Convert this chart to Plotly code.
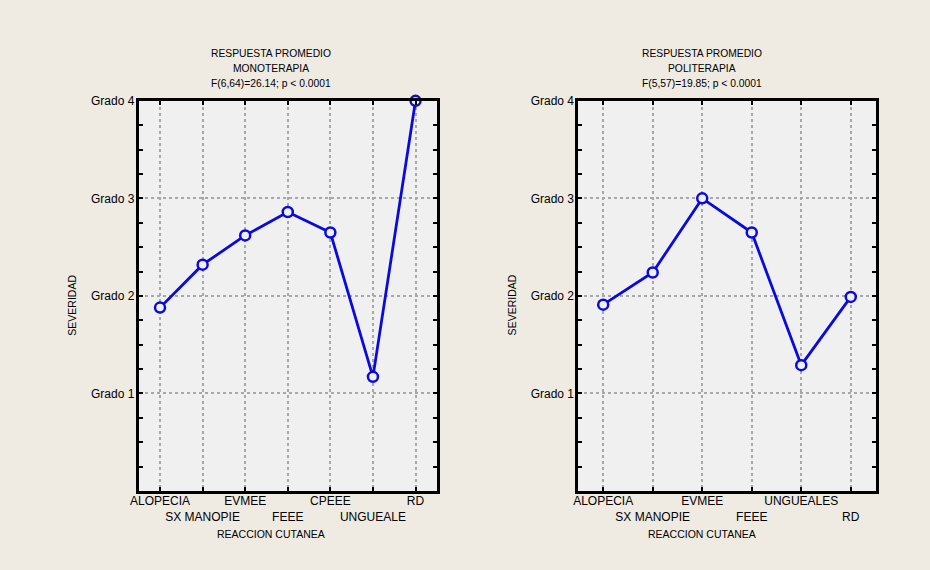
import plotly.graph_objects as go

cats_mono = ["ALOPECIA", "SX MANOPIE", "EVMEE", "FEEE", "CPEEE", "UNGUEALE", "RD"]
vals_mono = [1.88, 2.32, 2.62, 2.86, 2.65, 1.17, 4.0]

cats_poli = ["ALOPECIA", "SX MANOPIE", "EVMEE", "FEEE", "UNGUEALES", "RD"]
vals_poli = [1.91, 2.24, 3.0, 2.65, 1.29, 1.99]

ytick_vals = [1, 2, 3, 4]
ytick_text = ["Grado 1", "Grado 2", "Grado 3", "Grado 4"]

titles = [
    ["RESPUESTA PROMEDIO", "MONOTERAPIA", "F(6,64)=26.14; p < 0.0001"],
    ["RESPUESTA PROMEDIO", "POLITERAPIA", "F(5,57)=19.85; p < 0.0001"],
]
xtitle = "REACCION CUTANEA"
ytitle = "SEVERIDAD"

W, H = 930, 570
BLUE = "#0A0ADC"
FONT = "Liberation Sans, Arial, sans-serif"

fig = go.Figure()

def stagger(cats):
    return [c if i % 2 == 0 else "<br>" + c for i, c in enumerate(cats)]

panels = [
    (cats_mono, vals_mono, "x", "y", (131, 432), 265),
    (cats_poli, vals_poli, "x2", "y2", (575, 875), 700),
]

for k, (cats, vals, xa, ya, (x0, x1), tc) in enumerate(panels):
    idx = list(range(len(cats)))
    fig.add_trace(go.Scatter(
        x=idx, y=vals, xaxis=xa, yaxis=ya, mode="lines+markers",
        line=dict(color=BLUE, width=2.8),
        marker=dict(symbol="circle", size=10, color="#F0F0F0",
                    line=dict(color=BLUE, width=2.5)),
        showlegend=False, cliponaxis=False,
    ))
    axx = dict(
        domain=[x0 / W, x1 / W], range=[-0.5, len(cats) - 0.5],
        tickmode="array", tickvals=idx, ticktext=stagger(cats), tickangle=0,
        ticks="inside", ticklen=4, tickwidth=2, tickcolor="black",
        showline=True, linecolor="black", linewidth=3, mirror="ticks",
        showgrid=True, gridcolor="#A8A8A8", griddash="dot", gridwidth=2,
        zeroline=False, anchor=ya, ticklabelstandoff=-3,
        tickfont=dict(family=FONT, size=12, color="black"),
        fixedrange=True,
    )
    axy = dict(
        domain=[1 - 490 / H, 1 - 95 / H], range=[0, 4],
        tickmode="array", tickvals=ytick_vals, ticktext=ytick_text,
        ticks="inside", ticklen=4, tickwidth=2, tickcolor="black",
        minor=dict(dtick=0.25, tick0=0, ticks="inside", ticklen=4,
                   tickwidth=2, tickcolor="black", showgrid=False),
        showline=True, linecolor="black", linewidth=3, mirror="ticks",
        showgrid=True, gridcolor="#A8A8A8", griddash="dot", gridwidth=2,
        zeroline=False, anchor=xa, ticklabelstandoff=-1,
        tickfont=dict(family=FONT, size=12, color="black"),
        fixedrange=True,
    )
    suffix = "" if k == 0 else "2"
    fig.layout["xaxis" + suffix] = axx
    fig.layout["yaxis" + suffix] = axy

    for j, line in enumerate(titles[k]):
        fig.add_annotation(x=tc / W, y=1 - (47 + 15 * j) / H, xref="paper", yref="paper",
                           xanchor="center", yanchor="middle",
                           text=line, showarrow=False,
                           font=dict(family=FONT, size=10.3, color="black"))
    fig.add_annotation(x=tc / W, y=1 - 534 / H, xref="paper", yref="paper",
                       xanchor="center", yanchor="middle",
                       text=xtitle, showarrow=False,
                       font=dict(family=FONT, size=10.5, color="black"))
    fig.add_annotation(x=(x0 - 67) / W, y=1 - 302 / H, xref="paper", yref="paper",
                       xanchor="center", yanchor="middle",
                       text=ytitle, showarrow=False, textangle=-90,
                       font=dict(family=FONT, size=10.5, color="black"))

fig.update_layout(
    width=W, height=H, margin=dict(l=0, r=0, t=0, b=0),
    paper_bgcolor="#EFEBE2", plot_bgcolor="#F0F0F0",
    font=dict(family=FONT, size=11, color="black"),
)

fig.write_html("out.html", config={"displayModeBar": False},
               post_script="document.body.style.margin='0';")
